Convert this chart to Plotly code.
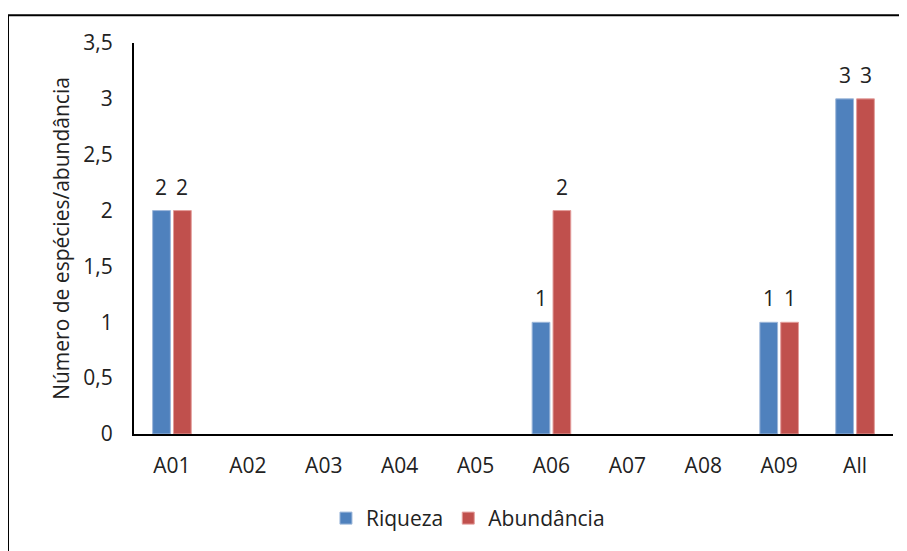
import plotly.graph_objects as go

categorias = ["A01", "A02", "A03", "A04", "A05", "A06", "A07", "A08", "A09", "All"]
riqueza = [2, None, None, None, None, 1, None, None, 1, 3]
abundancia = [2, None, None, None, None, 2, None, None, 1, 3]
y_ticks = [0, 0.5, 1, 1.5, 2, 2.5, 3, 3.5]
y_tick_labels = ["0", "0,5", "1", "1,5", "2", "2,5", "3", "3,5"]

fuente = "'Open Sans', sans-serif"
texto = "#222222"

fig = go.Figure()
fig.add_trace(go.Bar(
    x=categorias, y=riqueza, name="Riqueza",
    marker=dict(color="#4F81BD", line=dict(color="#9DB7DA", width=1)),
))
fig.add_trace(go.Bar(
    x=categorias, y=abundancia, name="Abundância",
    marker=dict(color="#C0504D", line=dict(color="#E39D9B", width=1)),
))

# etiquetas de datos un poco más separadas de la barra (como en Excel)
for serie, desplaz in ((riqueza, -10.5), (abundancia, 10.5)):
    for cat, val in zip(categorias, serie):
        if val is None:
            continue
        fig.add_annotation(x=cat, y=val, text=str(val), showarrow=False,
                           xshift=desplaz, yshift=8, yanchor="bottom",
                           font=dict(size=21, color=texto, family=fuente))

# la página tiene 8px de margen en body: la figura se corre 8px
fig.update_layout(
    width=899, height=543,
    barmode="group", bargap=0.45, bargroupgap=0.15,
    paper_bgcolor="white", plot_bgcolor="white",
    font=dict(family=fuente, size=21, color=texto),
    margin=dict(l=126, r=14, t=35, b=114),
    showlegend=True,
    legend=dict(orientation="h", x=0.44, xanchor="center", y=-0.216, yanchor="middle",
                font=dict(size=21), itemwidth=30, traceorder="normal"),
    xaxis=dict(showline=True, linecolor="black", linewidth=2, showgrid=False,
               ticks="", ticklabelstandoff=12, tickfont=dict(size=21)),
    yaxis=dict(range=[0, 3.5], tickvals=y_ticks, ticktext=y_tick_labels,
               showline=True, linecolor="black", linewidth=2, showgrid=False, zeroline=False,
               ticks="", ticklabelstandoff=15, tickfont=dict(size=21),
               title=dict(text="Número de espécies/abundância", font=dict(size=21), standoff=8)),
)

# borde del gráfico (estilo Excel)
fig.add_shape(type="rect", xref="paper", yref="paper",
              x0=-0.166, x1=1.05, y0=-0.35, y1=1.071,
              line=dict(color="black", width=2), layer="below")

fig.write_html("out.html")
